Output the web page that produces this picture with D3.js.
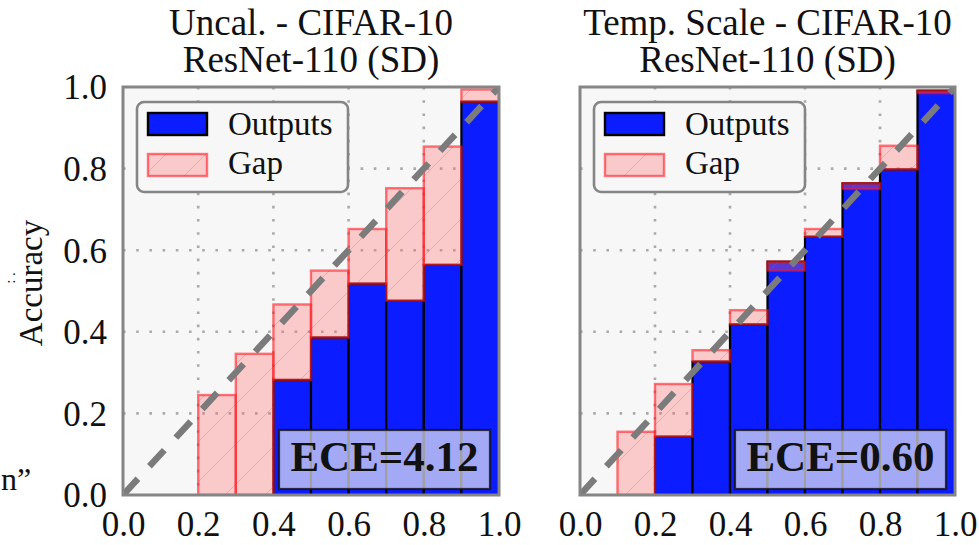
<!DOCTYPE html>
<html>
<head>
<meta charset="utf-8">
<script src="https://cdn.jsdelivr.net/npm/d3@7/dist/d3.min.js"></script>
<style>
  html, body { margin: 0; padding: 0; background: #ffffff; }
  svg { display: block; }
  text { font-family: "Liberation Serif", "DejaVu Serif", serif; fill: #111; }
</style>
</head>
<body>
<svg id="chart" width="979" height="545"></svg>
<script>
// Reliability diagrams: per-bin accuracy ("Outputs") and the gap to mean confidence.
const binEdges = [0.0, 0.1, 0.2, 0.3, 0.4, 0.5, 0.6, 0.7, 0.8, 0.9];
const binWidth = 0.1;

const uncalAccuracy   = [0, 0, 0, 0, 0.282, 0.386, 0.518, 0.476, 0.564, 0.964];
const uncalConfidence = [null, null, 0.245, 0.346, 0.467, 0.550, 0.652, 0.752, 0.854, 0.994];

const tempAccuracy    = [0, 0, 0.143, 0.327, 0.418, 0.572, 0.633, 0.764, 0.798, 0.991];
const tempConfidence  = [null, 0.155, 0.272, 0.355, 0.453, 0.550, 0.652, 0.750, 0.856, 0.985];

const panelTitles = [
  ["Uncal. - CIFAR-10", "ResNet-110 (SD)"],
  ["Temp. Scale - CIFAR-10", "ResNet-110 (SD)"]
];
const eceLabels = ["ECE=4.12", "ECE=0.60"];
const tickValues = [0.0, 0.2, 0.4, 0.6, 0.8, 1.0];
const gridValues = [0.2, 0.4, 0.6, 0.8];
const legendLabels = ["Outputs", "Gap"];
const yAxisLabel = "Accuracy";

const svg = d3.select("#chart");
const defs = svg.append("defs");

// faint "/" hatching used inside the gap bars
const hatch = defs.append("pattern")
  .attr("id", "gapHatch")
  .attr("patternUnits", "userSpaceOnUse")
  .attr("width", 40).attr("height", 40);
hatch.append("rect").attr("width", 40).attr("height", 40)
  .attr("fill", "rgba(255,110,110,0.33)");
hatch.append("path")
  .attr("d", "M-10,10 L10,-10 M0,40 L40,0 M30,50 L50,30")
  .attr("stroke", "rgba(255,60,60,0.28)")
  .attr("stroke-width", 1);

const BLUE = "#0b1cff";
const GAP_EDGE = "rgba(255,20,30,0.58)";
const FRAME = "#858585";

const panels = [
  { x0: 123, x1: 499, acc: uncalAccuracy, conf: uncalConfidence, yTicks: true },
  { x0: 580, x1: 955, acc: tempAccuracy, conf: tempConfidence, yTicks: false }
];
const yTop = 87, yBottom = 495;

panels.forEach((p, i) => {
  const x = d3.scaleLinear().domain([0, 1]).range([p.x0, p.x1]);
  const y = d3.scaleLinear().domain([0, 1]).range([yBottom, yTop]);
  const g = svg.append("g");

  const clipId = "clip" + i;
  defs.append("clipPath").attr("id", clipId)
    .append("rect")
    .attr("x", p.x0).attr("y", yTop)
    .attr("width", p.x1 - p.x0).attr("height", yBottom - yTop);

  // plot background
  g.append("rect")
    .attr("x", p.x0).attr("y", yTop)
    .attr("width", p.x1 - p.x0).attr("height", yBottom - yTop)
    .attr("fill", "#f7f7f7");

  // dotted grid
  const grid = g.append("g").attr("clip-path", `url(#${clipId})`);
  grid.selectAll("line.gx").data(gridValues).join("line")
    .attr("x1", d => x(d)).attr("x2", d => x(d))
    .attr("y1", yTop).attr("y2", yBottom);
  grid.selectAll("line.gy").data(gridValues).join("line")
    .attr("class", "gy")
    .attr("x1", p.x0).attr("x2", p.x1)
    .attr("y1", d => y(d)).attr("y2", d => y(d));
  grid.selectAll("line")
    .attr("stroke", "#aaaaaa")
    .attr("stroke-width", 2.6)
    .attr("stroke-dasharray", "2.6 10.6");

  const plot = g.append("g").attr("clip-path", `url(#${clipId})`);

  // accuracy bars
  const bins = binEdges.map((b, k) => ({ b, acc: p.acc[k], conf: p.conf[k] }));
  plot.selectAll("rect.out").data(bins.filter(d => d.acc > 0)).join("rect")
    .attr("class", "out")
    .attr("x", d => x(d.b))
    .attr("width", d => x(d.b + binWidth) - x(d.b))
    .attr("y", d => y(d.acc))
    .attr("height", d => y(0) - y(d.acc))
    .attr("fill", BLUE)
    .attr("stroke", "#000")
    .attr("stroke-width", 2.2);

  // gap bars between accuracy and confidence
  plot.selectAll("rect.gap").data(bins.filter(d => d.conf !== null)).join("rect")
    .attr("class", "gap")
    .attr("x", d => x(d.b))
    .attr("width", d => x(d.b + binWidth) - x(d.b))
    .attr("y", d => y(Math.max(d.acc, d.conf)))
    .attr("height", d => y(Math.min(d.acc, d.conf)) - y(Math.max(d.acc, d.conf)))
    .attr("fill", "url(#gapHatch)")
    .attr("stroke", GAP_EDGE)
    .attr("stroke-width", 2.4);

  // perfect calibration diagonal
  plot.append("line")
    .attr("x1", x(0)).attr("y1", y(0))
    .attr("x2", x(1)).attr("y2", y(1))
    .attr("stroke", "#7b7b7b")
    .attr("stroke-width", 6.5)
    .attr("stroke-dasharray", "22 17");

  // frame
  g.append("rect")
    .attr("x", p.x0).attr("y", yTop)
    .attr("width", p.x1 - p.x0).attr("height", yBottom - yTop)
    .attr("fill", "none")
    .attr("stroke", FRAME)
    .attr("stroke-width", 3);

  // x axis labels
  const xAxis = d3.axisBottom(x).tickValues(tickValues)
    .tickFormat(d3.format(".1f")).tickSize(0).tickPadding(0);
  const xa = g.append("g").attr("transform", `translate(0,${yBottom})`).call(xAxis);
  xa.select(".domain").remove();
  xa.selectAll("text")
    .attr("dy", null).attr("y", 41)
    .style("font-family", '"Liberation Serif", serif')
    .style("font-size", "35px")
    .attr("fill", "#2a2a2a");

  if (p.yTicks) {
    const yAxis = d3.axisLeft(y).tickValues(tickValues)
      .tickFormat(d3.format(".1f")).tickSize(0).tickPadding(16);
    const ya = g.append("g").attr("transform", `translate(${p.x0},0)`).call(yAxis);
    ya.select(".domain").remove();
    ya.selectAll("text")
      .attr("dy", "0.34em")
      .style("font-family", '"Liberation Serif", serif')
      .style("font-size", "35px")
      .attr("fill", "#2a2a2a");
  }

  // two-line title
  const cx = (p.x0 + p.x1) / 2;
  g.append("text").attr("x", cx).attr("y", 35).attr("text-anchor", "middle")
    .style("font-size", "37px").text(panelTitles[i][0]);
  g.append("text").attr("x", cx).attr("y", 72).attr("text-anchor", "middle")
    .style("font-size", "37px").text(panelTitles[i][1]);

  // legend
  const lx = p.x0 + 14, ly = 102;
  const lg = g.append("g");
  lg.append("rect")
    .attr("x", lx).attr("y", ly).attr("width", 211).attr("height", 90)
    .attr("rx", 7)
    .attr("fill", "#f7f7f7")
    .attr("stroke", FRAME).attr("stroke-width", 2.6);
  lg.append("rect")
    .attr("x", lx + 11).attr("y", ly + 11).attr("width", 59).attr("height", 22)
    .attr("fill", BLUE).attr("stroke", "#000").attr("stroke-width", 2.4);
  lg.append("rect")
    .attr("x", lx + 11).attr("y", ly + 52).attr("width", 59).attr("height", 22)
    .attr("fill", "url(#gapHatch)").attr("stroke", GAP_EDGE).attr("stroke-width", 2.4);
  lg.append("text").attr("x", lx + 91).attr("y", ly + 33)
    .style("font-size", "33px").text(legendLabels[0]);
  lg.append("text").attr("x", lx + 91).attr("y", ly + 72)
    .style("font-size", "33px").text(legendLabels[1]);

  // ECE annotation box
  const bx1 = p.x1 - 9, bx0 = bx1 - 211;
  g.append("rect")
    .attr("x", bx0).attr("y", 430).attr("width", bx1 - bx0).attr("height", 59)
    .attr("fill", "rgba(236,236,240,0.68)")
    .attr("stroke", "rgba(20,20,30,0.85)").attr("stroke-width", 2.2);
  g.append("text").attr("x", (bx0 + bx1) / 2).attr("y", 471)
    .attr("text-anchor", "middle")
    .style("font-size", "43px").style("font-weight", "bold")
    .text(eceLabels[i]);
});

// y axis title
svg.append("text")
  .attr("transform", "translate(42,283) rotate(-90)")
  .attr("text-anchor", "middle")
  .style("font-size", "33px")
  .text(yAxisLabel);

// small marks of neighbouring text at the left margin
svg.append("text")
  .attr("transform", "translate(15,278) rotate(-90)")
  .attr("text-anchor", "middle")
  .style("font-size", "15px")
  .text(": .");
svg.append("text")
  .attr("x", 1).attr("y", 490)
  .style("font-size", "32px")
  .text("n”");
</script>
</body>
</html>
